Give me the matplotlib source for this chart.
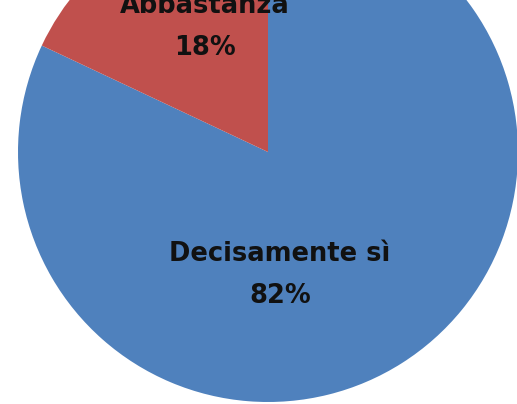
import matplotlib.pyplot as plt

# data
labels = ['Decisamente sì', 'Abbastanza']
values = [82, 18]
colors = ['#4F81BD', '#C0504D']
# where the data labels sit (pie radius = 1)
label_pos = [(0.048, -0.492), (-0.252, 0.50)]

fig = plt.figure(figsize=(5.17, 4.04), dpi=100)
ax = fig.add_axes([0, 0, 1, 1])

ax.pie(values, colors=colors, startangle=90, counterclock=False,
       radius=1, wedgeprops={'linewidth': 0})

for name, val, (x, y) in zip(labels, values, label_pos):
    ax.text(x, y, f'{name}\n{val}%', ha='center', va='center',
            fontsize=18.5, fontweight='bold', family='DejaVu Sans',
            linespacing=1.8, color='#111111')

# the picture only shows part of the pie
ax.set_xlim(-1.072, 0.996)
ax.set_ylim(-1.008, 0.608)
ax.set_aspect('equal')
ax.axis('off')

fig.savefig('out.png', dpi=100)
